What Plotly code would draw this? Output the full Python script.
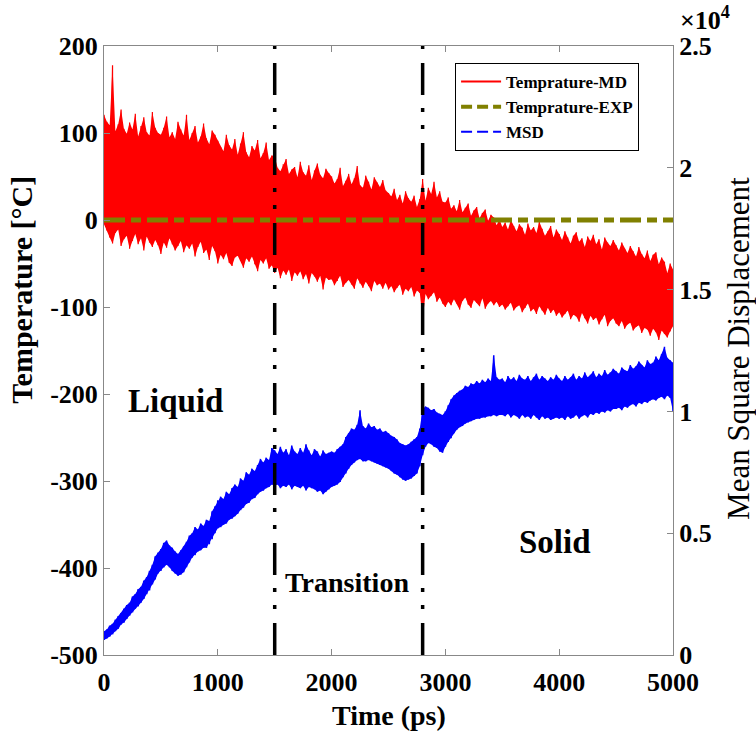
import plotly.graph_objects as go

# ---------------- data ----------------
temp_step_ps = 25          # sampling of the temperature envelopes
msd_step_ps = 25           # sampling of the MSD envelopes

# Temprature-MD : upper / lower edge of the noisy red trace (°C), t = 0..5000 ps
temp_md_upper = [
    121, 113, 109, 178, 102, 110, 127, 105, 99, 112, 104, 122, 96, 108, 118, 101, 97, 124, 106, 100,
    98, 106, 119, 95, 101, 93, 113, 104, 97, 121, 92, 100, 108, 89, 96, 111, 94, 87, 103, 98,
    91, 84, 79, 98, 86, 81, 93, 75, 88, 101, 78, 72, 85, 80, 92, 71, 77, 89, 69, 74,
    73, 60, 56, 64, 70, 53, 58, 61, 49, 67, 55, 51, 63, 46, 57, 65, 52, 48, 59, 54,
    50, 42, 47, 60, 39, 45, 53, 41, 48, 62, 40, 37, 51, 44, 35, 49, 43, 38, 46, 34,
    31, 27, 36, 23, 29, 19, 33, 25, 21, 28, 15, 24, 47, 22, 37, 30, 44, 26, 33, 21,
    20, 26, 13, 17, 10, 23, 9, 14, 19, 5, 11, 15, 2, 8, 12, -1, 6, 3, -6, 1,
    -8, -3, -11, 0, -7, -13, -5, -9, -17, -4, -12, -8, -15, -2, -10, -18, -13, -7, -20, -11,
    -16, -23, -13, -20, -27, -18, -14, -25, -21, -31, -19, -24, -17, -28, -22, -34, -20, -26, -30, -23,
    -29, -35, -26, -33, -38, -30, -36, -42, -31, -39, -44, -35, -47, -40, -37, -51, -43, -48, -61, -50,
    -57,
]
temp_md_lower = [
    -5, -12, -20, -27, -15, -11, -30, -22, -18, -33, -24, -16, -28, -21, -35, -19, -26, -31, -23, -29,
    -39, -26, -32, -21, -28, -35, -30, -24, -37, -29, -33, -27, -42, -31, -25, -38, -34, -46, -30, -36,
    -50, -40, -45, -38, -49, -53, -43, -41, -47, -55, -44, -48, -42, -51, -59, -46, -50, -44, -56, -52,
    -61, -55, -67, -58, -63, -57, -70, -60, -64, -59, -68, -62, -73, -61, -65, -71, -64, -80, -66, -69,
    -68, -75, -70, -64, -77, -72, -69, -74, -79, -67, -73, -78, -71, -76, -82, -70, -75, -73, -79, -72,
    -80, -76, -83, -78, -74, -86, -79, -82, -77, -88, -81, -84, -115, -85, -91, -87, -83, -94, -89, -96,
    -100, -94, -98, -91, -96, -103, -93, -89, -97, -101, -92, -95, -99, -90, -102, -96, -93, -98, -94, -100,
    -97, -103, -99, -95, -104, -100, -98, -106, -101, -96, -105, -102, -108, -99, -104, -109, -101, -107, -103, -110,
    -106, -112, -108, -104, -114, -109, -111, -117, -107, -113, -119, -110, -115, -112, -120, -114, -109, -122, -116, -113,
    -119, -122, -116, -125, -120, -118, -127, -123, -121, -130, -124, -126, -133, -125, -129, -138, -127, -131, -135, -128,
    -122,
]

# Temprature-EXP (°C), constant
temp_exp_value = 0

# MSD : upper / lower edge of the noisy blue trace, t = 0..5000 ps
msd_upper = [
    980, 1050, 1200, 1280, 1450, 1600, 1720, 1900, 2050, 2150, 2400, 2500, 2700, 2800, 3050, 3200, 3450, 3700, 4050, 4200,
    4350, 4600, 4700, 4500, 4400, 4250, 4150, 4300, 4450, 4650, 4900, 5000, 5250, 5150, 5400, 5300, 5550, 5500, 5900, 6100,
    6350, 6500, 6400, 6700, 6600, 6850, 7000, 6900, 7250, 7150, 7500, 7400, 7650, 7550, 7800, 8050, 7900, 8100, 8000, 8500,
    8400, 8250, 8550, 8300, 8450, 8200, 8600, 8350, 8250, 8500, 8300, 8650, 8400, 8200, 8450, 8350, 8150, 8400, 8250, 8300,
    8350, 8300, 8450, 8550, 8650, 8950, 9100, 9300, 9250, 9450, 10050, 9400, 9300, 9500, 9350, 9400, 9250, 9300, 9150, 9200,
    9100, 9000, 8950, 8850, 8700, 8650, 8600, 8650, 8750, 8850, 8950, 9300, 10100, 10200, 10150, 10050, 10100, 9950, 9900, 9850,
    10000, 10250, 10500, 10650, 10750, 10850, 10900, 11050, 11000, 11150, 11100, 11250, 11150, 11300, 11200, 11350, 11250, 12300, 11400, 11300,
    11350, 11200, 11450, 11300, 11400, 11250, 11500, 11350, 11300, 11450, 11250, 11400, 11550, 11300, 11450, 11350, 11250, 11400, 11300, 11500,
    11350, 11250, 11450, 11300, 11400, 11550, 11300, 11450, 11350, 11600, 11400, 11500, 11650, 11400, 11550, 11450, 11700, 11500, 11600, 11750,
    11650, 11550, 11800, 11700, 11650, 11900, 11750, 11850, 12050, 11900, 11800, 12100, 11950, 12000, 12250, 12100, 12350, 12650, 12200, 12100,
    12000,
]
msd_lower = [
    620, 680, 760, 850, 980, 1080, 1250, 1330, 1480, 1620, 1750, 1900, 2000, 2150, 2300, 2500, 2650, 2900, 3100, 3350,
    3450, 3600, 3700, 3600, 3450, 3350, 3250, 3300, 3400, 3600, 3800, 4000, 4100, 4250, 4300, 4400, 4400, 4550, 4750, 5000,
    5200, 5250, 5350, 5400, 5550, 5600, 5700, 5800, 5950, 6050, 6200, 6250, 6400, 6450, 6600, 6700, 6750, 6850, 6900, 7000,
    6950, 7000, 6850, 6950, 6900, 7000, 6800, 6950, 6900, 6850, 6950, 6750, 6900, 6850, 6800, 6700, 6750, 6600, 6700, 6800,
    6900, 6950, 7000, 7100, 7300, 7450, 7650, 7800, 7900, 8000, 8050, 7950, 7950, 8000, 7950, 7900, 7850, 7800, 7750, 7700,
    7650, 7550, 7450, 7400, 7300, 7200, 7150, 7200, 7250, 7350, 7450, 7750, 8200, 8550, 8700, 8650, 8550, 8500, 8350, 8300,
    8550, 8750, 8900, 9100, 9250, 9350, 9400, 9500, 9550, 9600, 9650, 9700, 9700, 9750, 9750, 9800, 9800, 9850, 9800, 9850,
    9850, 9800, 9900, 9750, 9850, 9800, 9700, 9850, 9750, 9800, 9700, 9850, 9750, 9650, 9800, 9700, 9750, 9650, 9700, 9750,
    9700, 9750, 9650, 9800, 9700, 9750, 9850, 9700, 9800, 9850, 9750, 9900, 9850, 9950, 9900, 10000, 9950, 10050, 10000, 10100,
    10100, 10150, 10050, 10200, 10150, 10250, 10300, 10200, 10350, 10300, 10400, 10350, 10450, 10500, 10450, 10550, 10600, 10500, 10650, 10550,
    10000,
]

phase_boundaries = [1500, 2800]
phase_labels = ["Liquid", "Transition", "Solid"]

x_ticks = [0, 1000, 2000, 3000, 4000, 5000]
temp_ticks = [-500, -400, -300, -200, -100, 0, 100, 200]
msd_ticks = [0, 5000, 10000, 15000, 20000, 25000]
msd_tick_labels = ["0", "0.5", "1", "1.5", "2", "2.5"]

legend_names = ["Temprature-MD", "Temprature-EXP", "MSD"]

# ---------------- derived traces ----------------
t_temp = [i * temp_step_ps for i in range(len(temp_md_upper))]
t_msd = [i * msd_step_ps for i in range(len(msd_upper))]


def band(t, hi, lo):
    return t + t[::-1], hi + lo[::-1]


def zigzag(t, hi, lo):
    xs, ys = [], []
    for ti, h, l in zip(t, hi, lo):
        xs += [ti, ti]
        ys += [h, l]
    return xs, ys


FONT = "Liberation Serif, Times New Roman, serif"
RED = "#ff0000"
OLIVE = "#808000"
BLUE = "#0000ff"

fig = go.Figure()

# Temperature MD band
bx, by = band(t_temp, temp_md_upper, temp_md_lower)
fig.add_trace(go.Scatter(x=bx, y=by, fill="toself", fillcolor=RED, line=dict(width=0),
                         mode="lines", showlegend=False, hoverinfo="skip"))
zx, zy = zigzag(t_temp, temp_md_upper, temp_md_lower)
fig.add_trace(go.Scatter(x=zx, y=zy, mode="lines", line=dict(color=RED, width=1.2),
                         showlegend=False))

# Temperature EXP
fig.add_trace(go.Scatter(x=[t_temp[0], t_temp[-1]], y=[temp_exp_value, temp_exp_value],
                         mode="lines", line=dict(color=OLIVE, width=5, dash="21px,6px,10px,6px"),
                         showlegend=False))

# MSD band (right axis)
mx, my = band(t_msd, msd_upper, msd_lower)
fig.add_trace(go.Scatter(x=mx, y=my, fill="toself", fillcolor=BLUE, line=dict(width=0),
                         mode="lines", showlegend=False, hoverinfo="skip", yaxis="y2"))
mzx, mzy = zigzag(t_msd, msd_upper, msd_lower)
fig.add_trace(go.Scatter(x=mzx, y=mzy, mode="lines", line=dict(color=BLUE, width=1.5),
                         showlegend=False, yaxis="y2"))

# legend-only entries
fig.add_trace(go.Scatter(x=[None], y=[None], mode="lines", name=legend_names[0],
                         line=dict(color=RED, width=2)))
fig.add_trace(go.Scatter(x=[None], y=[None], mode="lines", name=legend_names[1],
                         line=dict(color=OLIVE, width=4, dash="11px,5px")))
fig.add_trace(go.Scatter(x=[None], y=[None], mode="lines", name=legend_names[2],
                         line=dict(color=BLUE, width=2, dash="11px,5px"), yaxis="y2"))

# phase boundaries
for b in phase_boundaries:
    fig.add_shape(type="line", xref="x", yref="paper", x0=b, x1=b, y0=0, y1=1,
                  line=dict(color="black", width=3.5, dash="32px,14px,4px,13px,4px,13px"))

# phase labels
fig.add_annotation(x=627, y=-208, xref="x", yref="y", text="<b>" + phase_labels[0] + "</b>",
                   showarrow=False, xanchor="center", yanchor="middle",
                   font=dict(family=FONT, size=33, color="black"))
fig.add_annotation(x=2136, y=-417, xref="x", yref="y", text="<b>" + phase_labels[1] + "</b>",
                   showarrow=False, xanchor="center", yanchor="middle",
                   font=dict(family=FONT, size=28, color="black"))
fig.add_annotation(x=3965, y=-370, xref="x", yref="y", text="<b>" + phase_labels[2] + "</b>",
                   showarrow=False, xanchor="center", yanchor="middle",
                   font=dict(family=FONT, size=33, color="black"))

# axis titles
fig.add_annotation(xref="paper", yref="paper", x=0.5, y=-0.1, text="<b>Time (ps)</b>",
                   showarrow=False, xanchor="center", yanchor="middle",
                   font=dict(family=FONT, size=28, color="black"))
fig.add_annotation(xref="paper", yref="paper", x=-0.144, y=0.6, text="<b>Temperature [°C]</b>",
                   showarrow=False, textangle=-90, xanchor="center", yanchor="middle",
                   font=dict(family=FONT, size=30, color="black"))
fig.add_annotation(xref="paper", yref="paper", x=1.114, y=0.504, text="Mean Square Displacement",
                   showarrow=False, textangle=-90, xanchor="center", yanchor="middle",
                   font=dict(family=FONT, size=31, color="black"))
fig.add_annotation(xref="paper", yref="paper", x=1.056, y=1.045, text="<b>×10<sup>4</sup></b>",
                   showarrow=False, xanchor="center", yanchor="middle",
                   font=dict(family=FONT, size=26, color="black"))

axis_common = dict(showgrid=False, zeroline=False, showline=True, linecolor="#888888",
                   linewidth=1, ticks="inside", ticklen=6, tickcolor="#888888",
                   tickfont=dict(family=FONT, size=26, color="black", weight="bold"))

fig.update_layout(
    width=756, height=736, autosize=False,
    margin=dict(l=104, r=83, t=46, b=81),
    plot_bgcolor="white", paper_bgcolor="white",
    xaxis=dict(range=[0, 5000], tickvals=x_ticks, ticktext=[str(v) for v in x_ticks],
               mirror="ticks", ticklabelstandoff=4, **axis_common),
    yaxis=dict(range=[-500, 200], tickvals=temp_ticks, ticktext=[str(v) for v in temp_ticks],
               **axis_common),
    yaxis2=dict(range=[0, 25000], tickvals=msd_ticks, ticktext=msd_tick_labels,
                overlaying="y", side="right", **axis_common),
    legend=dict(x=0.617, y=0.972, xanchor="left", yanchor="top",
                bgcolor="white", bordercolor="black", borderwidth=1,
                font=dict(family=FONT, size=17, color="black", weight="bold"),
                tracegroupgap=0, itemwidth=40),
    showlegend=True,
)

fig.write_html("out.html", config={"displayModeBar": False},
               post_script="document.body.style.margin='0';document.body.style.padding='0';")
